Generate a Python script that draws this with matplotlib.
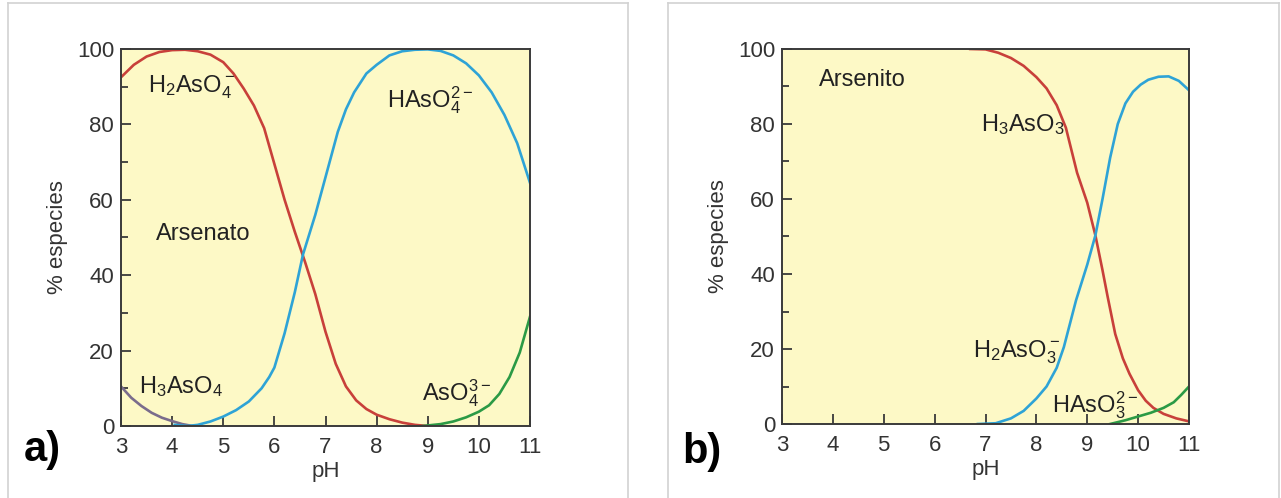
import matplotlib
matplotlib.use("Agg")
import matplotlib.pyplot as plt
from matplotlib.lines import Line2D

plt.rcParams['font.family'] = ['Liberation Sans', 'DejaVu Sans']
plt.rcParams['mathtext.fontset'] = 'custom'
plt.rcParams['mathtext.rm'] = 'Liberation Sans'

# a) arsenato
ph_h3aso4 = [3.0, 3.2, 3.4, 3.6, 3.8, 4.0, 4.2, 4.4]
h3aso4 = [10.5, 7.5, 5.3, 3.5, 2.2, 1.3, 0.5, 0.0]

ph_h2aso4 = [3.0, 3.25, 3.5, 3.75, 4.0, 4.25, 4.5, 4.75, 5.0, 5.2, 5.4, 5.6, 5.8,
             6.0, 6.2, 6.4, 6.6, 6.8, 7.0, 7.2, 7.4, 7.6, 7.8, 8.0, 8.25, 8.5, 8.75, 9.0]
h2aso4 = [92.5, 95.8, 98.0, 99.2, 99.7, 99.8, 99.4, 98.5, 96.5, 93.5, 89.5, 85.0, 79.0,
          69.5, 60.0, 51.5, 43.5, 35.0, 25.0, 16.5, 10.5, 6.8, 4.5, 3.0, 1.8, 0.9, 0.3, 0.0]

ph_haso4 = [4.05, 4.3, 4.5, 4.75, 5.0, 5.25, 5.5, 5.75, 5.9, 6.0, 6.2, 6.4, 6.56, 6.8,
            7.0, 7.24, 7.4, 7.56, 7.8, 8.0, 8.25, 8.5, 8.75, 9.0, 9.25, 9.5, 9.75,
            10.0, 10.25, 10.5, 10.75, 11.0]
haso4 = [0.3, 0.0, 0.3, 1.2, 2.5, 4.2, 6.5, 10.0, 13.0, 15.5, 24.6, 35.5, 45.5, 56.0,
         66.0, 78.0, 84.0, 88.5, 93.5, 95.8, 98.3, 99.4, 99.8, 99.9, 99.5, 98.3, 96.2,
         93.0, 88.5, 82.5, 75.0, 64.5]

ph_aso4 = [8.9, 9.25, 9.5, 9.75, 10.0, 10.2, 10.4, 10.6, 10.8, 11.0]
aso4 = [0.0, 0.5, 1.2, 2.3, 3.8, 5.5, 8.5, 13.0, 19.5, 29.0]

# b) arsenito
ph_h3aso3 = [6.7, 7.0, 7.25, 7.5, 7.75, 8.0, 8.2, 8.4, 8.58, 8.8, 9.0, 9.16, 9.3,
             9.4, 9.55, 9.7, 9.83, 10.0, 10.15, 10.3, 10.5, 10.75, 11.0]
h3aso3 = [100.0, 99.9, 99.0, 97.6, 95.5, 92.5, 89.5, 85.0, 79.0, 67.0, 59.0, 50.3, 41.0,
          34.0, 24.0, 17.5, 13.4, 9.0, 6.2, 4.3, 2.7, 1.5, 0.7]

ph_h2aso3 = [6.85, 7.2, 7.5, 7.75, 8.0, 8.2, 8.4, 8.54, 8.78, 9.0, 9.16, 9.3, 9.45,
             9.6, 9.75, 9.9, 10.05, 10.2, 10.4, 10.6, 10.8, 11.0]
h2aso3 = [0.0, 0.2, 1.5, 3.5, 6.8, 10.0, 15.0, 20.5, 33.0, 42.5, 50.3, 60.0, 71.0,
          80.0, 85.5, 88.6, 90.5, 91.8, 92.6, 92.7, 91.5, 89.0]

ph_haso3 = [9.45, 9.75, 10.0, 10.25, 10.5, 10.7, 10.85, 11.0]
haso3 = [0.0, 1.0, 2.0, 3.0, 4.3, 5.8, 7.8, 10.0]

x_ticks = [3, 4, 5, 6, 7, 8, 9, 10, 11]
y_ticks = [0, 20, 40, 60, 80, 100]

RED = '#c8403a'
BLUE = '#2ea3d6'
GREEN = '#2b9a45'
PURPLE = '#7a6c8c'
BG = '#fdf9c6'
AX = '#3a3a3a'

fig = plt.figure(figsize=(12.81, 4.98), dpi=100)

# marcos grises
for x0, x1 in [(8, 628), (668, 1279)]:
    fig.add_artist(Line2D([x0 / 1281, x1 / 1281], [495 / 498, 495 / 498], color='#d2d2d2', lw=1.2))
    fig.add_artist(Line2D([x0 / 1281, x0 / 1281], [0, 495 / 498], color='#d2d2d2', lw=1.2))
    fig.add_artist(Line2D([x1 / 1281, x1 / 1281], [0, 495 / 498], color='#d2d2d2', lw=1.2))

ax1 = fig.add_axes([121 / 1281, 72 / 498, 409 / 1281, 377 / 498])
ax2 = fig.add_axes([782 / 1281, 74 / 498, 407 / 1281, 375 / 498])

ax1.plot(ph_h3aso4, h3aso4, color=PURPLE, lw=1.9)
ax1.plot(ph_h2aso4, h2aso4, color=RED, lw=1.9)
ax1.plot(ph_haso4, haso4, color=BLUE, lw=1.9)
ax1.plot(ph_aso4, aso4, color=GREEN, lw=1.9)

ax2.plot(ph_h3aso3, h3aso3, color=RED, lw=1.9)
ax2.plot(ph_h2aso3, h2aso3, color=BLUE, lw=1.9)
ax2.plot(ph_haso3, haso3, color=GREEN, lw=1.9)

fs = 17
tc = '#222'
ax1.text(3.52, 89.8, r'$\mathregular{H_2AsO_4^-}$', fontsize=fs, va='center', color=tc)
ax1.text(8.2, 86.3, r'$\mathregular{HAsO_4^{2-}}$', fontsize=fs, va='center', color=tc)
ax1.text(3.68, 51.0, 'Arsenato', fontsize=fs, va='center', color=tc)
ax1.text(3.36, 10.5, r'$\mathregular{H_3AsO_4}$', fontsize=fs, va='center', color=tc)
ax1.text(8.88, 8.7, r'$\mathregular{AsO_4^{3-}}$', fontsize=fs, va='center', color=tc)

ax2.text(3.72, 91.8, 'Arsenito', fontsize=fs, va='center', color=tc)
ax2.text(6.92, 79.8, r'$\mathregular{H_3AsO_3}$', fontsize=fs, va='center', color=tc)
ax2.text(6.76, 19.2, r'$\mathregular{H_2AsO_3^-}$', fontsize=fs, va='center', color=tc)
ax2.text(8.3, 4.9, r'$\mathregular{HAsO_3^{2-}}$', fontsize=fs, va='center', color=tc)

for ax in (ax1, ax2):
    ax.set_facecolor(BG)
    ax.set_xlim(3, 11)
    ax.set_ylim(0, 100)
    ax.set_xticks(x_ticks)
    ax.set_yticks(y_ticks)
    ax.set_yticks([10, 30, 50, 70, 90], minor=True)
    ax.tick_params(which='both', direction='in', color=AX, width=1.3, labelsize=16,
                   labelcolor='#333')
    ax.tick_params(which='major', length=7)
    ax.tick_params(which='minor', length=5)
    ax.tick_params(axis='x', pad=8)
    ax.tick_params(axis='y', pad=5)
    for s in ax.spines.values():
        s.set_color(AX)
        s.set_linewidth(1.4)
    ax.set_xlabel('pH', fontsize=16, color='#333', labelpad=2)
    ax.set_ylabel('% especies', fontsize=16, color='#333', labelpad=6)

fig.text(24 / 1281, 1 - 450 / 498, 'a)', fontsize=30, fontweight='bold', va='center',
         ha='left', bbox=dict(facecolor='white', edgecolor='none', pad=5))
fig.text(682 / 1281, 1 - 452 / 498, 'b)', fontsize=30, fontweight='bold', va='center',
         ha='left', bbox=dict(facecolor='white', edgecolor='none', pad=5))

fig.savefig('out.png', dpi=100)
